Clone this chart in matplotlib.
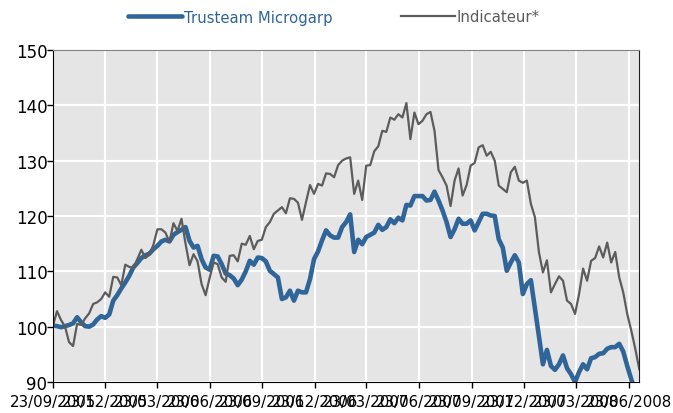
import pandas as pd
import matplotlib
matplotlib.use("Agg")
import matplotlib.pyplot as plt

# weekly values, base 100 on 23/09/2005
dates = pd.date_range("2005-09-23", periods=147, freq="7D")

trusteam = [
    100.2, 100.1, 99.9, 100.1, 100.3, 100.6, 101.7, 100.8, 100.1, 100.0,
    100.4, 101.3, 101.9, 101.6, 102.2, 104.7, 105.7, 106.9, 108.0, 109.2,
    110.7, 111.5, 112.4, 112.9, 113.2, 114.0, 114.6, 115.4, 115.7, 115.4,
    116.6, 117.1, 117.5, 118.0, 115.5, 114.3, 114.6, 112.2, 110.7, 110.3,
    112.8, 112.7, 111.3, 109.6, 109.3, 108.7, 107.5, 108.5, 110.0, 111.9,
    111.2, 112.5, 112.4, 111.8, 110.1, 109.5, 108.9, 105.0, 105.3, 106.5,
    104.7, 106.5, 106.2, 106.2, 108.6, 112.2, 113.6, 115.6, 117.4, 116.5,
    116.1, 116.1, 118.0, 118.9, 120.3, 113.5, 115.7, 114.9, 116.2, 116.6,
    117.0, 118.4, 117.5, 118.0, 119.4, 118.7, 119.7, 119.2, 122.0, 121.9,
    123.6, 123.6, 123.6, 122.8, 122.9, 124.4, 122.8, 121.0, 118.9, 116.2,
    117.6, 119.5, 118.6, 118.6, 119.2, 117.4, 118.9, 120.4, 120.4, 120.1,
    120.0, 115.8, 114.3, 110.1, 111.6, 112.9, 111.6, 105.9, 107.7, 108.4,
    103.4, 98.3, 93.2, 95.8, 92.9, 92.2, 93.2, 94.8, 92.5, 91.4,
    90.0, 91.8, 93.2, 92.3, 94.3, 94.5, 95.1, 95.2, 96.0, 96.3,
    96.3, 96.9, 95.5, 92.9, 90.5, 88.3, 86.2,
]

indicateur = [
    100.2, 102.8, 101.2, 100.0, 97.2, 96.5, 100.5, 100.3, 101.5, 102.4,
    104.1, 104.4, 105.0, 106.2, 105.4, 109.0, 108.9, 107.5, 111.2, 110.8,
    110.6, 112.2, 113.9, 112.4, 113.0, 114.8, 117.6, 117.6, 117.0, 115.3,
    118.7, 117.3, 119.5, 115.0, 111.1, 113.1, 111.8, 107.7, 105.7, 108.8,
    111.6, 111.3, 108.9, 108.1, 112.8, 112.9, 111.8, 115.0, 114.8, 116.4,
    114.0, 115.5, 115.7, 118.0, 118.9, 120.4, 121.0, 121.6, 120.5, 123.2,
    123.1, 122.4, 119.3, 122.5, 125.6, 124.0, 125.8, 125.5, 127.7, 127.6,
    127.0, 129.2, 130.0, 130.4, 130.6, 124.0, 126.4, 122.9, 129.1, 129.2,
    131.7, 132.6, 135.4, 135.2, 137.8, 137.4, 138.4, 137.8, 140.4, 133.9,
    138.7, 136.6, 137.2, 138.4, 138.8, 135.4, 128.3, 127.0, 125.5, 121.8,
    126.4, 128.6, 123.7, 125.6, 129.1, 129.6, 132.4, 132.8, 130.9, 131.6,
    130.0, 125.5, 124.9, 124.3, 127.9, 128.9, 126.4, 126.0, 126.4, 122.2,
    119.8, 113.5, 109.8, 112.0, 106.2, 107.7, 109.1, 108.3, 104.7, 104.1,
    102.3, 105.9, 110.5, 108.3, 111.9, 112.4, 114.5, 112.5, 115.2, 111.6,
    113.5, 108.9, 106.2, 102.3, 99.3, 96.0, 92.3,
]

tick_dates = pd.to_datetime([
    "2005-09-23", "2005-12-23", "2006-03-23", "2006-06-23",
    "2006-09-23", "2006-12-23", "2007-03-23", "2007-06-23",
    "2007-09-23", "2007-12-23", "2008-03-23", "2008-06-23",
])
tick_labels = [d.strftime("%d/%m/%Y") for d in tick_dates]
y_ticks = [90, 100, 110, 120, 130, 140, 150]

blue = "#2f6599"
grey = "#5c5c5c"

fig = plt.figure(figsize=(6.73, 4.14), dpi=100)
ax = fig.add_axes([53 / 673, 1 - 383 / 414, (639.3 - 53) / 673, (383 - 51) / 414])
ax.set_facecolor("#e5e5e5")

l1, = ax.plot(dates, trusteam, color=blue, lw=3.3, solid_capstyle="round",
              solid_joinstyle="round", label="Trusteam Microgarp")
l2, = ax.plot(dates, indicateur, color=grey, lw=1.6, label="Indicateur*")

ax.set_xlim(dates[0], dates[-1])
ax.set_ylim(90, 150)
ax.set_yticks(y_ticks)
ax.set_xticks(tick_dates)
ax.set_xticklabels(tick_labels)

ax.grid(True, color="white", lw=1.6)
ax.set_axisbelow(True)

ax.tick_params(axis="x", direction="out", length=4, width=1, pad=5, labelsize=10.8)
ax.tick_params(axis="y", direction="out", length=4, width=1, pad=0, labelsize=12)

ax.spines["top"].set_color("#808080")
ax.spines["right"].set_color("#202020")
ax.spines["left"].set_color("black")
ax.spines["bottom"].set_color("black")

fig.legend(handles=[l1, l2], loc="center left", bbox_to_anchor=(121 / 673, 1 - 18 / 414),
           ncol=2, frameon=False, fontsize=10.7, handlelength=3.6, handletextpad=0.15,
           columnspacing=4.6, borderpad=0, labelcolor="linecolor")

fig.savefig("out.png", dpi=100)
